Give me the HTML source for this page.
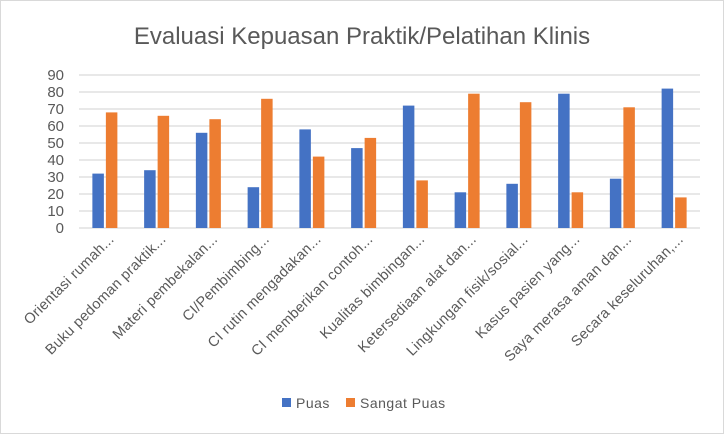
<!DOCTYPE html>
<html><head><meta charset="utf-8"><style>
html,body{margin:0;padding:0;background:#fff;}
svg{display:block;font-family:"Liberation Sans",sans-serif;}
</style></head><body>
<svg width="724" height="434" viewBox="0 0 724 434">
<rect x="0.5" y="0.5" width="723" height="433" fill="#fff" stroke="#d9d9d9"/>
<text x="362" y="44" text-anchor="middle" font-size="24" fill="#595959">Evaluasi Kepuasan Praktik/Pelatihan Klinis</text>
<g stroke="#d9d9d9" stroke-width="1.3">
<line x1="79" x2="700" y1="75" y2="75"/><line x1="79" x2="700" y1="92" y2="92"/>
<line x1="79" x2="700" y1="109" y2="109"/><line x1="79" x2="700" y1="126" y2="126"/>
<line x1="79" x2="700" y1="143" y2="143"/><line x1="79" x2="700" y1="160" y2="160"/>
<line x1="79" x2="700" y1="177" y2="177"/><line x1="79" x2="700" y1="194" y2="194"/>
<line x1="79" x2="700" y1="211" y2="211"/><line x1="79" x2="700" y1="228" y2="228"/>
</g>
<g font-size="15" fill="#595959" text-anchor="end">
<text x="64" y="80">90</text><text x="64" y="97">80</text><text x="64" y="114">70</text>
<text x="64" y="131">60</text><text x="64" y="148">50</text><text x="64" y="165">40</text>
<text x="64" y="182">30</text><text x="64" y="199">20</text><text x="64" y="216">10</text>
<text x="64" y="233">0</text>
</g>
<g id="bars"></g>
<g id="labels" font-size="14.5" fill="#595959" text-anchor="end" letter-spacing="0.3"></g>
<rect x="282" y="398" width="9" height="9" fill="#4472C4"/>
<text x="296" y="408" font-size="14" fill="#595959" letter-spacing="0.5">Puas</text>
<rect x="346" y="398" width="9" height="9" fill="#ED7D31"/>
<text x="360" y="408" font-size="14" fill="#595959" letter-spacing="0.5">Sangat Puas</text>
<script>
var p=[32,34,56,24,58,47,72,21,26,79,29,82],s=[68,66,64,76,42,53,28,79,74,21,71,18];
var L=["Orientasi rumah...","Buku pedoman praktik...","Materi pembekalan...","CI/Pembimbing...","CI rutin mengadakan...","CI memberikan contoh...","Kualitas bimbingan...","Ketersediaan alat dan...","Lingkungan fisik/sosial...","Kasus pasien yang...","Saya merasa aman dan...","Secara keseluruhan,..."];
var b=document.getElementById('bars'),l=document.getElementById('labels'),ns="http://www.w3.org/2000/svg";
for(var i=0;i<12;i++){var c=79+51.75*(i+0.5);
function r(x,v,f){var e=document.createElementNS(ns,'rect');e.setAttribute('x',x);e.setAttribute('width',11.5);e.setAttribute('y',228-v*1.7);e.setAttribute('height',v*1.7);e.setAttribute('fill',f);b.appendChild(e);}
r(c-12.5,p[i],'#4472C4');r(c+1,s[i],'#ED7D31');
var t=document.createElementNS(ns,'text');var x=c+10,y=240;t.setAttribute('x',x);t.setAttribute('y',y);t.setAttribute('transform','rotate(-45 '+x+' '+y+')');t.textContent=L[i];l.appendChild(t);}
</script>
</svg>
</body></html>
